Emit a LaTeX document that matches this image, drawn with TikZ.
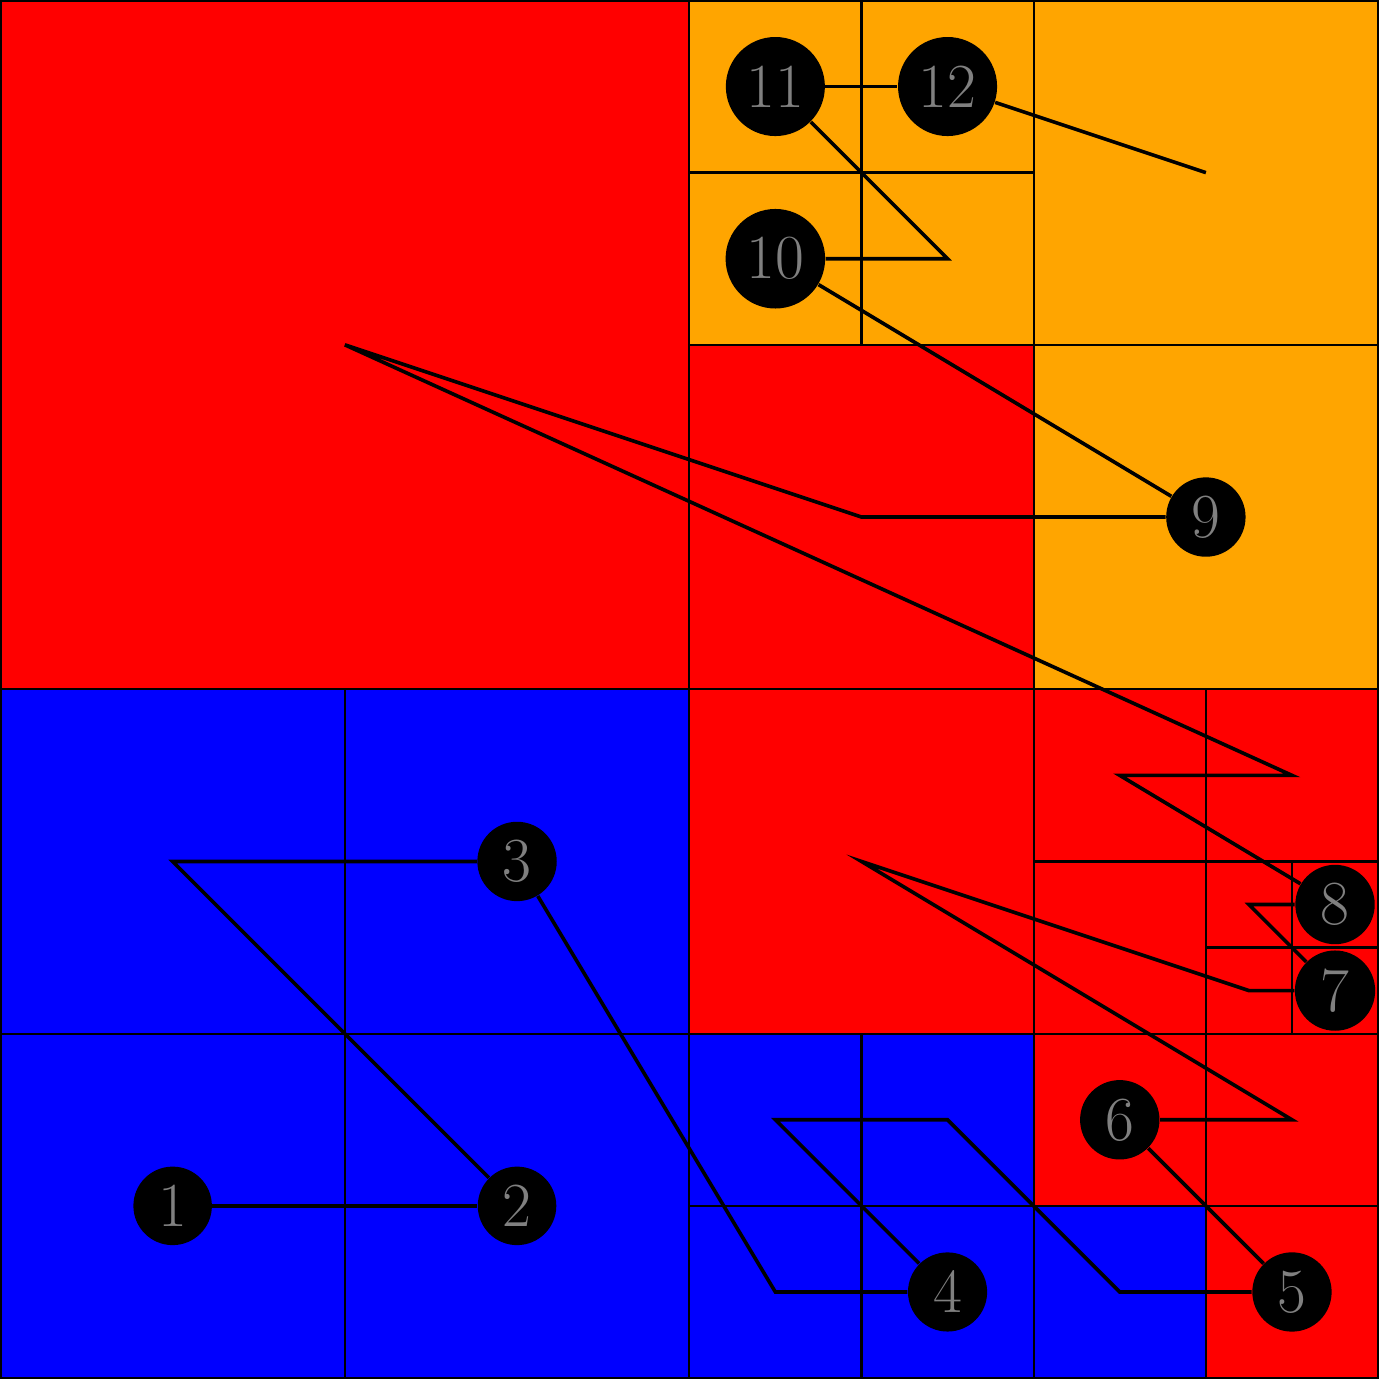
\documentclass[tikz,border=0pt]{standalone}
\definecolor{cellred}{RGB}{255,0,0}
\definecolor{cellorange}{RGB}{255,165,0}
\definecolor{cellblue}{RGB}{0,0,255}
\begin{document}
\begin{tikzpicture}[x=1cm,y=1cm,
  rcell/.style={fill=cellred},
  ocell/.style={fill=cellorange},
  bcell/.style={fill=cellblue},
  edge/.style={draw=black,line width=0.75pt},
  pt/.style={circle,fill=black,text=gray,font=\huge,inner sep=3.33pt},
  curve/.style={draw=black,line width=1.2pt}]
\useasboundingbox (-0.005,-0.005) rectangle (16.15,16.005);
% red cells
\foreach \a/\b/\c/\d in {0/8/8/16, 8/8/12/12, 8/4/12/8, 12/6/14/8, 14/6/16/8, 12/4/14/6,
  14/5/15/6, 15/5/16/6, 14/4/15/5, 15/4/16/5, 12/2/14/4, 14/2/16/4, 14/0/16/2}
  \path[rcell] (\a,\b) rectangle (\c,\d);
% orange cells
\foreach \a/\b/\c/\d in {8/14/10/16, 10/14/12/16, 8/12/10/14, 10/12/12/14, 12/12/16/16, 12/8/16/12}
  \path[ocell] (\a,\b) rectangle (\c,\d);
% blue cells
\foreach \a/\b/\c/\d in {0/4/4/8, 4/4/8/8, 0/0/4/4, 4/0/8/4, 8/2/10/4, 10/2/12/4, 8/0/10/2, 10/0/12/2, 12/0/14/2}
  \path[bcell] (\a,\b) rectangle (\c,\d);
% cell outlines
\foreach \a/\b/\c/\d in {0/8/8/16, 8/8/12/12, 8/4/12/8, 12/6/14/8, 14/6/16/8, 12/4/14/6,
  14/5/15/6, 15/5/16/6, 14/4/15/5, 15/4/16/5, 12/2/14/4, 14/2/16/4, 14/0/16/2,
  8/14/10/16, 10/14/12/16, 8/12/10/14, 10/12/12/14, 12/12/16/16, 12/8/16/12,
  0/4/4/8, 4/4/8/8, 0/0/4/4, 4/0/8/4, 8/2/10/4, 10/2/12/4, 8/0/10/2, 10/0/12/2, 12/0/14/2}
  \path[edge] (\a,\b) rectangle (\c,\d);
% nodes
\node[pt] (n1) at (2,2) {1};
\node[pt] (n2) at (6,2) {2};
\node[pt] (n3) at (6,6) {3};
\node[pt] (n4) at (11,1) {4};
\node[pt] (n5) at (15,1) {5};
\node[pt] (n6) at (13,3) {6};
\node[pt] (n7) at (15.5,4.5) {7};
\node[pt] (n8) at (15.5,5.5) {8};
\node[pt] (n9) at (14,10) {9};
\node[pt] (n10) at (9,13) {10};
\node[pt] (n11) at (9,15) {11};
\node[pt] (n12) at (11,15) {12};
\coordinate (end) at (14,14);
% curve
\path[curve] (n1) -- (n2);
\path[curve] (n2) -- (2,6) -- (n3);
\path[curve] (n3) -- (9,1) -- (n4);
\path[curve] (n4) -- (9,3) -- (11,3) -- (13,1) -- (n5);
\path[curve] (n5) -- (n6);
\path[curve] (n6) -- (15,3) -- (10,6) -- (14.5,4.5) -- (n7);
\path[curve] (n7) -- (14.5,5.5) -- (n8);
\path[curve] (n8) -- (13,7) -- (15,7) -- (4,12) -- (10,10) -- (n9);
\path[curve] (n9) -- (n10);
\path[curve] (n10) -- (11,13) -- (n11);
\path[curve] (n11) -- (n12);
\path[curve] (n12) -- (end);
\end{tikzpicture}
\end{document}
